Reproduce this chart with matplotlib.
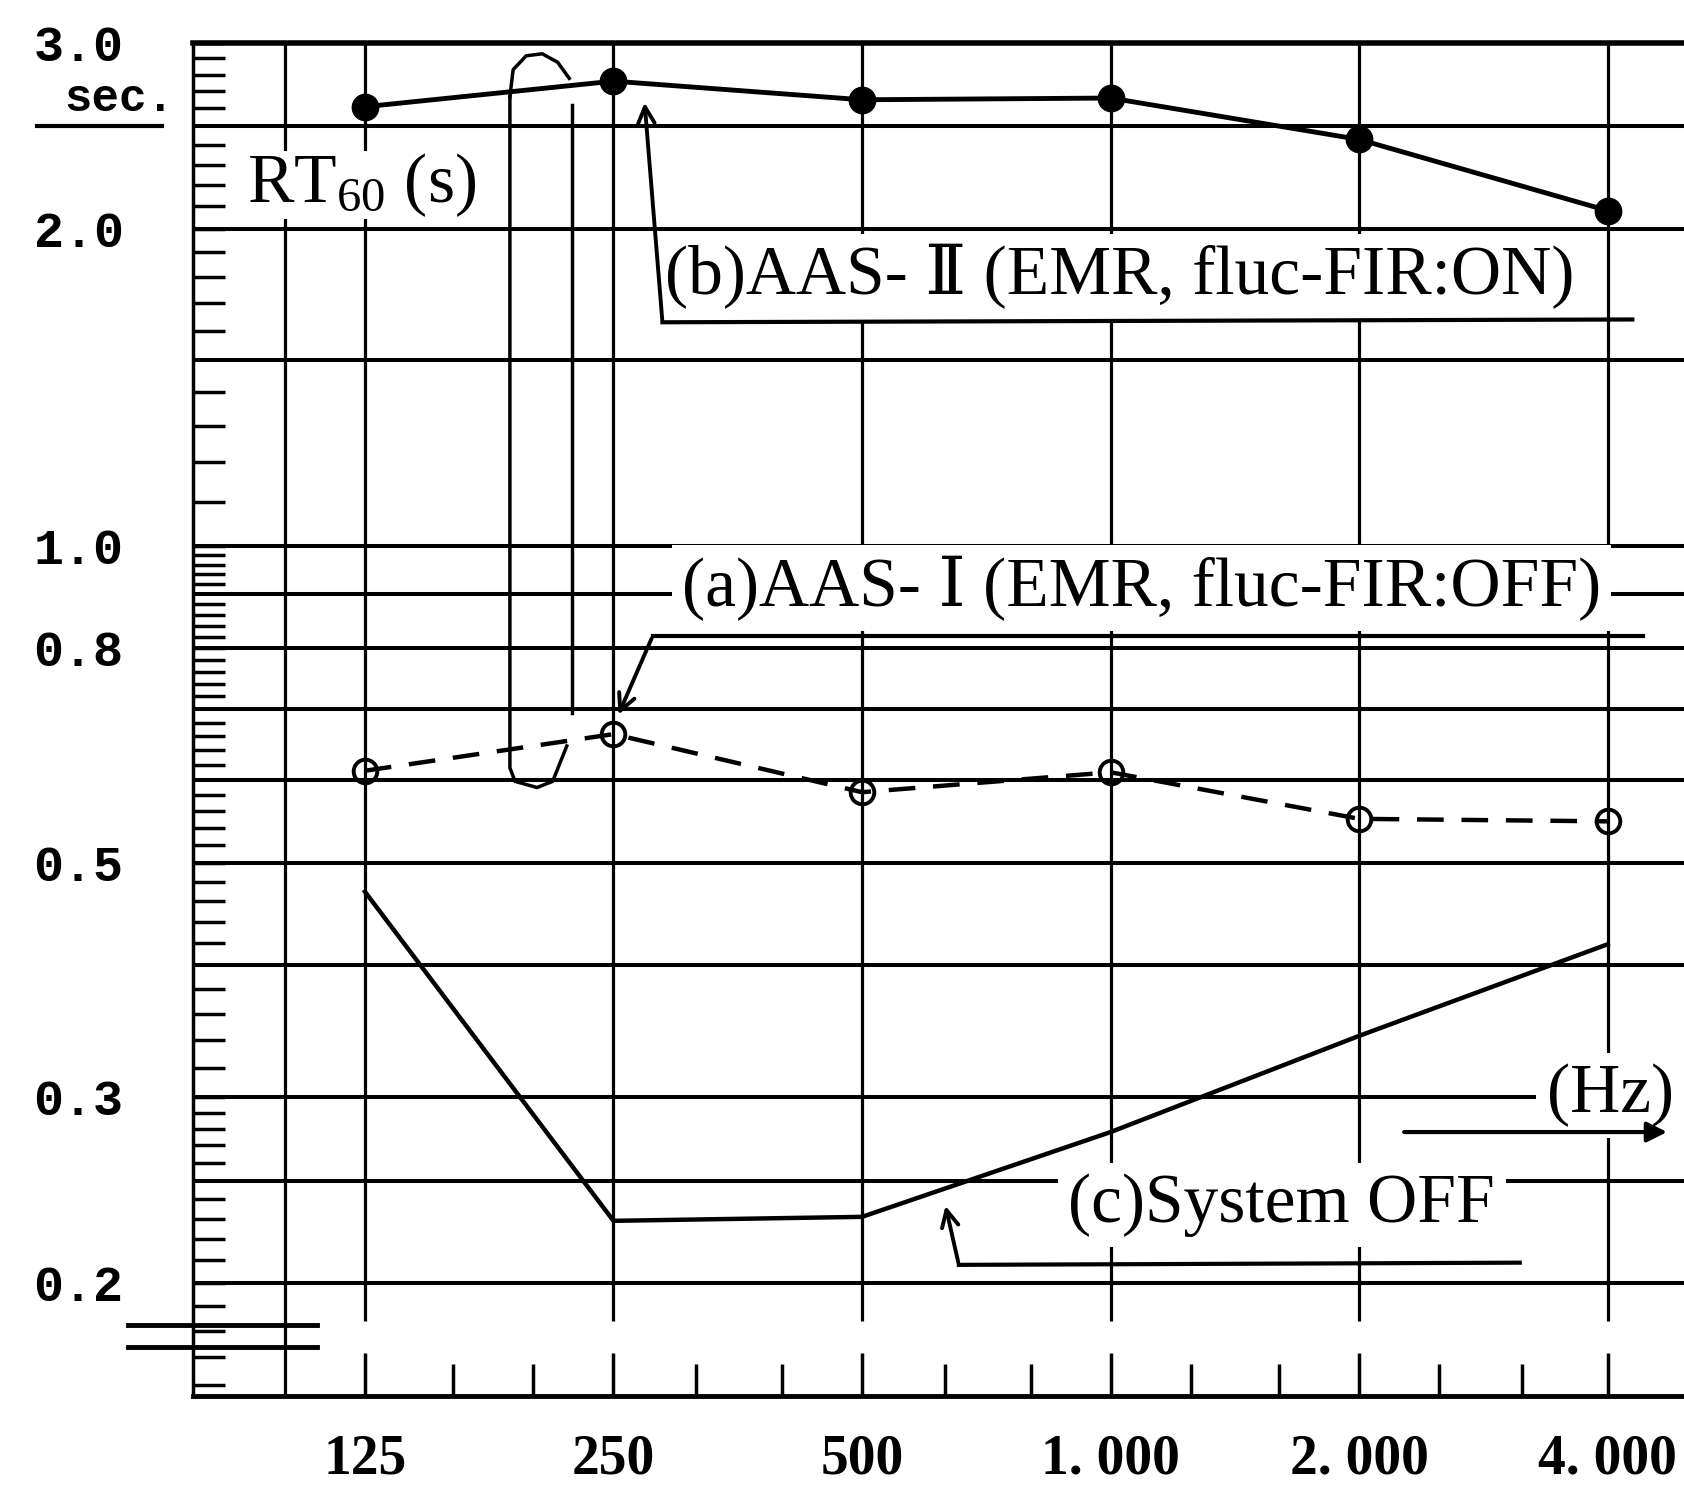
import matplotlib
matplotlib.use('Agg')
import matplotlib.pyplot as plt
from matplotlib.ticker import NullFormatter
import numpy as np

plt.rcParams['font.family'] = ['Liberation Serif', 'DejaVu Serif', 'Noto Sans CJK JP']
plt.rcParams['mathtext.fontset'] = 'custom'
plt.rcParams['mathtext.rm'] = 'Liberation Serif'
plt.rcParams['mathtext.it'] = 'Liberation Serif:italic'

# octave band centre frequencies (Hz)
freqs = [125, 250, 500, 1000, 2000, 4000]
freq_labels = ['125', '250', '500', '1. 000', '2. 000', '4. 000']
third_octaves = [160, 200, 315, 400, 630, 800, 1250, 1600, 2500, 3150]

# RT60 (s)
rt_aas2 = [2.61, 2.76, 2.65, 2.66, 2.43, 2.08]        # (b) AAS-II, fluc-FIR on
rt_aas1 = [0.612, 0.663, 0.584, 0.61, 0.551, 0.548]   # (a) AAS-I, fluc-FIR off
rt_off = [0.47, 0.229, 0.231, 0.278, 0.343, 0.419]    # (c) system off

y_grid = [2.5, 2.0, 1.5, 1.0, 0.9, 0.8, 0.7, 0.6, 0.5, 0.4, 0.3, 0.25, 0.2]
y_ticks = [3.0, 2.0, 1.0, 0.8, 0.5, 0.3, 0.2]
y_labels = ['3.0', '2.0', '1.0', '0.8', '0.5', '0.3', '0.2']

XMIN, XMAX = 77.4, 4948
YMIN, YMAX = 0.1563, 3.0

fig = plt.figure(figsize=(16.84, 14.87), dpi=100)
ax = fig.add_axes([0.1146, 0.0614, 0.8854, 0.9097])
ax.set_xscale('log', base=2)
ax.set_yscale('log')
ax.set_xlim(XMIN, XMAX)
ax.set_ylim(YMIN, YMAX)

# grid, drawn by hand like the original chart paper
ax.hlines(y_grid, XMIN, XMAX, color='k', lw=2.9, zorder=1)
ax.vlines(freqs, 0.184, YMAX, color='k', lw=2.3, zorder=1)
ax.vlines([100], YMIN, YMAX, color='k', lw=2.3, zorder=1)

for side in ['top', 'left', 'bottom']:
    ax.spines[side].set_color('k')
ax.spines['top'].set_linewidth(4)
ax.spines['left'].set_linewidth(2.5)
ax.spines['bottom'].set_linewidth(3.5)
ax.spines['right'].set_visible(False)

# x ticks
ax.set_xticks(freqs)
ax.set_xticklabels(freq_labels, fontsize=40, fontweight='bold')
ax.set_xticks(third_octaves, minor=True)
ax.xaxis.set_minor_formatter(NullFormatter())
ax.tick_params(axis='x', which='major', direction='in', length=31, width=2.5, pad=27)
ax.tick_params(axis='x', which='minor', direction='in', length=23, width=2.5)

# y ruler
y_minor = np.concatenate([np.arange(0.16, 0.295, 0.01), np.arange(0.32, 0.99, 0.02), np.arange(1.1, 2.95, 0.1)])
y_minor = [v for v in np.round(y_minor, 3) if v not in y_grid]
ax.set_yticks(y_ticks)
ax.set_yticklabels(y_labels, family='Liberation Mono', fontweight='bold', fontsize=36)
ax.set_yticks(y_minor, minor=True)
ax.yaxis.set_minor_formatter(NullFormatter())
ax.tick_params(axis='y', which='both', direction='in', length=23, width=2.5, pad=50)

ax.text(63, 2.655, 'sec.', ha='center', va='center', family='Liberation Mono', fontweight='bold', fontsize=33)
ax.plot([50.1, 70.9], [2.5, 2.5], color='k', lw=3, clip_on=False)

# axis break mark at bottom left
ax.plot([64.6, 109.3], [0.1824, 0.1824], color='k', lw=3.5, clip_on=False)
ax.plot([64.6, 109.3], [0.174, 0.174], color='k', lw=3.5, clip_on=False)

# series
ax.plot(freqs, rt_aas2, '-', color='k', lw=3.5, marker='o', ms=19, mfc='k', mec='k', zorder=5)
ax.plot(freqs, rt_aas1, color='k', lw=3.2, dashes=(6, 4), marker='o', ms=17, mfc='none', mec='k', mew=2.8, zorder=5)
ax.plot(freqs, rt_off, '-', color='k', lw=3.2, zorder=5)

# bracket linking the two 250 Hz points
ax.plot([187.3, 189, 196, 205, 214, 221], [2.668, 2.83, 2.917, 2.93, 2.876, 2.777], color='k', lw=2.5, zorder=4)
ax.plot([187.3, 187.3, 190, 202, 211, 219.5], [2.668, 0.616, 0.598, 0.59, 0.598, 0.646], color='k', lw=2.5, zorder=4)
ax.plot([223, 223], [2.62, 0.695], color='k', lw=2.5, zorder=4)

# labels
box = dict(boxstyle='square,pad=0.15', fc='white', ec='none')
ax.text(89.9, 2.20, r'RT$_{\mathrm{60}}$ (s)', fontsize=50, ha='left', va='center', zorder=3,
        bbox=dict(boxstyle='square,pad=0.0', fc='white', ec='none'))
ax.text(289, 1.80, '(b)AAS- Ⅱ (EMR, fluc-FIR:ON)', fontsize=50, ha='left', va='center', zorder=3, bbox=box)
ax.text(302.6, 0.912, '(a)AAS- Ⅰ (EMR, fluc-FIR:OFF)', fontsize=50, ha='left', va='center', zorder=3, bbox=box)
ax.text(889, 0.237, '(c)System OFF', fontsize=50, ha='left', va='center', zorder=3, bbox=box)
ax.text(3373, 0.301, '(Hz)', fontsize=50, ha='left', va='center', zorder=3, bbox=box)

# leader lines
arrow = dict(arrowstyle='->', color='k', lw=2.8, mutation_scale=30)
ax.annotate('', xy=(272.5, 2.65), xytext=(286.6, 1.63), arrowprops=arrow, zorder=4)
ax.plot([286.6, 4284], [1.63, 1.64], color='k', lw=3, zorder=4)
ax.annotate('', xy=(252.7, 0.688), xytext=(279, 0.822), arrowprops=arrow, zorder=4)
ax.plot([279, 4418], [0.822, 0.822], color='k', lw=3, zorder=4)
ax.annotate('', xy=(630, 0.238), xytext=(655, 0.208), arrowprops=arrow, zorder=4)
ax.plot([655, 3130], [0.208, 0.209], color='k', lw=3, zorder=4)
ax.annotate('', xy=(4757, 0.278), xytext=(2250, 0.278),
            arrowprops=dict(arrowstyle='-|>', color='k', lw=3, mutation_scale=30), zorder=4)

fig.savefig('out.png', dpi=100)
